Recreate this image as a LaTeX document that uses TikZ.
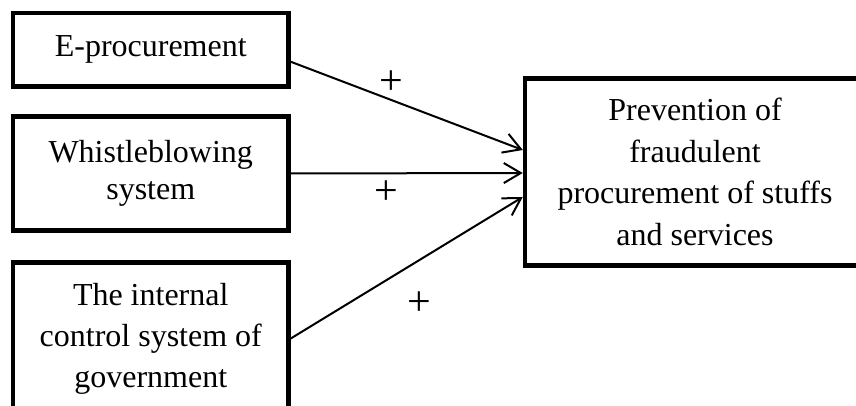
\documentclass[tikz,border=0pt]{standalone}
\usepackage{fontspec}
\setmainfont{Liberation Serif}
\usetikzlibrary{arrows.meta}
\begin{document}
\begin{tikzpicture}[x=1pt,y=-1pt,
  box/.style={draw, line width=4.5pt, rectangle, align=center, inner sep=0pt,
    font=\fontsize{32}{41}\selectfont},
  link/.style={line width=2pt, -{Straight Barb[length=17pt,width=20pt,line width=2pt]}},
  plus/.style={inner sep=0pt, font=\fontsize{42}{48}\selectfont}]
\useasboundingbox (0,0) rectangle (856,406);
\clip (0,0) rectangle (856,406);
\node[box, minimum width=275.5pt, minimum height=73.5pt] (ep) at (150.75,49.75) {E-procurement};
\node[box, minimum width=275.5pt, minimum height=114pt, font=\fontsize{32}{37}\selectfont] (wb) at (150.75,173.5) {Whistleblowing\\system};
\node[box, minimum width=275.5pt, minimum height=152pt] (ic) at (150.75,338.5) {The internal\\control system of\\government};
\node[box, minimum width=340pt, minimum height=187pt, font=\fontsize{32}{41.5}\selectfont] (pv) at (695,172) {Prevention of\\fraudulent\\procurement of stuffs\\and services};
\draw[link] ([yshift=-12pt]ep.east) -- ([yshift=22pt]pv.west);
\draw[link] (wb.east) -- ([yshift=-1pt]pv.west);
\draw[link] (ic.east) -- ([yshift=-25pt]pv.west);
\node[plus] (p1) at (391.7,82.7) {+};
\node[plus] (p2) at (386.7,192.7) {+};
\node[plus] (p3) at (419.3,303.3) {+};
\end{tikzpicture}
\end{document}
